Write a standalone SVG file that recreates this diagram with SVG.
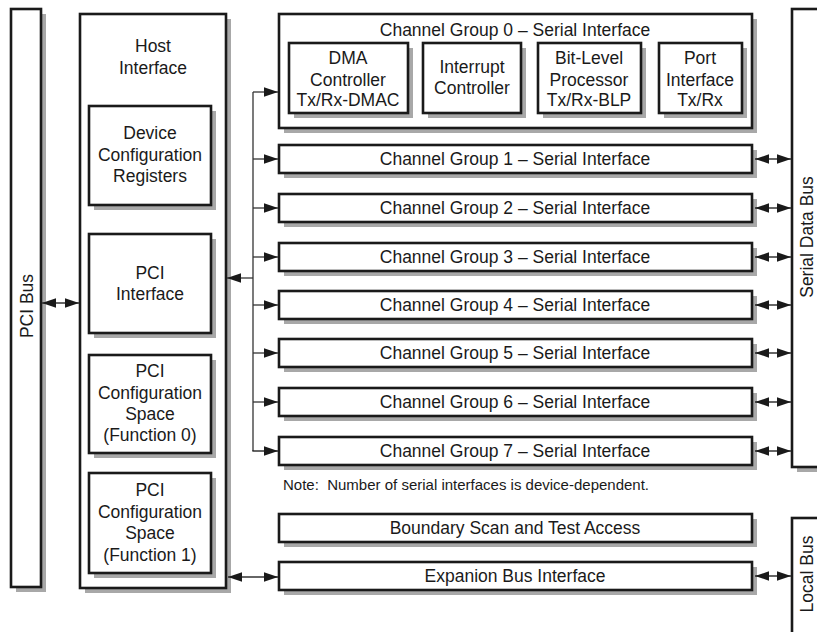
<svg xmlns="http://www.w3.org/2000/svg" width="817" height="632" viewBox="0 0 817 632">
<style>
.sh{fill:#a8a8a8}
.bx{fill:#fff;stroke:#1a1a1a;stroke-width:2.6}
text{font-family:"Liberation Sans",Arial,sans-serif;font-size:17.5px;fill:#1a1a1a;text-anchor:middle}
.note{font-size:15px;text-anchor:start}
.cn{fill:none;stroke:#333;stroke-width:1.3}
</style>
<defs>
<marker id="ah" markerUnits="userSpaceOnUse" markerWidth="14" markerHeight="10" refX="12" refY="4" orient="auto-start-reverse" viewBox="0 0 12 8">
<path d="M0,0 L12,4 L0,8 z" fill="#1a1a1a"/>
</marker>
</defs>
<rect width="817" height="632" fill="#fff"/>

<g id="pci-bus">
<rect class="sh" x="16" y="14" width="30" height="578"/>
<rect class="bx" x="11" y="9" width="30" height="578"/>
<text transform="translate(33,306) rotate(-90)">PCI Bus</text>
</g>

<g id="host-interface">
<rect class="sh" x="85" y="19" width="146" height="574"/>
<rect class="bx" x="80" y="14" width="146" height="574"/>
<text x="153" y="52">Host</text>
<text x="153" y="74">Interface</text>
</g>

<g id="device-config">
<rect class="sh" x="94" y="111" width="122" height="99"/>
<rect class="bx" x="89" y="106" width="122" height="99"/>
<text x="150" y="139">Device</text>
<text x="150" y="161">Configuration</text>
<text x="150" y="182">Registers</text>
</g>

<g id="pci-interface">
<rect class="sh" x="94" y="239" width="122" height="99"/>
<rect class="bx" x="89" y="234" width="122" height="99"/>
<text x="150" y="279">PCI</text>
<text x="150" y="300">Interface</text>
</g>

<g id="pci-config-0">
<rect class="sh" x="94" y="360" width="122" height="98"/>
<rect class="bx" x="89" y="355" width="122" height="98"/>
<text x="150" y="377">PCI</text>
<text x="150" y="399">Configuration</text>
<text x="150" y="420">Space</text>
<text x="150" y="441">(Function 0)</text>
</g>

<g id="pci-config-1">
<rect class="sh" x="94" y="478" width="122" height="100"/>
<rect class="bx" x="89" y="473" width="122" height="100"/>
<text x="150" y="496">PCI</text>
<text x="150" y="518">Configuration</text>
<text x="150" y="539">Space</text>
<text x="150" y="561">(Function 1)</text>
</g>

<g id="channel-group-0">
<rect class="sh" x="284" y="19" width="473" height="114"/>
<rect class="bx" x="279" y="14" width="473" height="114"/>
<text x="515" y="36">Channel Group 0 – Serial Interface</text>
</g>
<g id="dma">
<rect class="sh" x="294" y="48" width="119" height="70"/>
<rect class="bx" x="289" y="43" width="119" height="70"/>
<text x="348" y="64">DMA</text>
<text x="348" y="86">Controller</text>
<text x="348" y="106">Tx/Rx-DMAC</text>
</g>
<g id="interrupt">
<rect class="sh" x="428" y="48" width="98" height="70"/>
<rect class="bx" x="423" y="43" width="98" height="70"/>
<text x="472" y="73">Interrupt</text>
<text x="472" y="94">Controller</text>
</g>
<g id="blp">
<rect class="sh" x="543" y="48" width="103" height="70"/>
<rect class="bx" x="538" y="43" width="103" height="70"/>
<text x="589" y="64">Bit-Level</text>
<text x="589" y="86">Processor</text>
<text x="589" y="106">Tx/Rx-BLP</text>
</g>
<g id="port">
<rect class="sh" x="664" y="48" width="83" height="70"/>
<rect class="bx" x="659" y="43" width="83" height="70"/>
<text x="700" y="64">Port</text>
<text x="700" y="86">Interface</text>
<text x="700" y="106">Tx/Rx</text>
</g>

<g id="channel-group-1">
<rect class="sh" x="284" y="150" width="473" height="28"/>
<rect class="bx" x="279" y="145" width="473" height="28"/>
<text x="515" y="165">Channel Group 1 – Serial Interface</text>
</g>
<g id="channel-group-2">
<rect class="sh" x="284" y="199" width="473" height="28"/>
<rect class="bx" x="279" y="194" width="473" height="28"/>
<text x="515" y="214">Channel Group 2 – Serial Interface</text>
</g>
<g id="channel-group-3">
<rect class="sh" x="284" y="248" width="473" height="28"/>
<rect class="bx" x="279" y="243" width="473" height="28"/>
<text x="515" y="263">Channel Group 3 – Serial Interface</text>
</g>
<g id="channel-group-4">
<rect class="sh" x="284" y="296" width="473" height="28"/>
<rect class="bx" x="279" y="291" width="473" height="28"/>
<text x="515" y="311">Channel Group 4 – Serial Interface</text>
</g>
<g id="channel-group-5">
<rect class="sh" x="284" y="344" width="473" height="28"/>
<rect class="bx" x="279" y="339" width="473" height="28"/>
<text x="515" y="359">Channel Group 5 – Serial Interface</text>
</g>
<g id="channel-group-6">
<rect class="sh" x="284" y="393" width="473" height="28"/>
<rect class="bx" x="279" y="388" width="473" height="28"/>
<text x="515" y="408">Channel Group 6 – Serial Interface</text>
</g>
<g id="channel-group-7">
<rect class="sh" x="284" y="442" width="473" height="28"/>
<rect class="bx" x="279" y="437" width="473" height="28"/>
<text x="515" y="457">Channel Group 7 – Serial Interface</text>
</g>

<text class="note" x="283" y="490" xml:space="preserve">Note:  Number of serial interfaces is device-dependent.</text>

<g id="boundary-scan">
<rect class="sh" x="284" y="519" width="473" height="28"/>
<rect class="bx" x="279" y="514" width="473" height="28"/>
<text x="515" y="534">Boundary Scan and Test Access</text>
</g>
<g id="expansion-bus">
<rect class="sh" x="284" y="567" width="473" height="28"/>
<rect class="bx" x="279" y="562" width="473" height="28"/>
<text x="515" y="582">Expanion Bus Interface</text>
</g>

<g id="serial-data-bus">
<rect class="sh" x="797" y="14" width="40" height="458"/>
<rect class="bx" x="792" y="9" width="40" height="458"/>
<text transform="translate(813,237) rotate(-90)">Serial Data Bus</text>
</g>
<g id="local-bus">
<rect class="sh" x="797" y="523" width="40" height="130"/>
<rect class="bx" x="792" y="518" width="40" height="130"/>
<text transform="translate(813,574) rotate(-90)">Local Bus</text>
</g>

<g id="connectors">
<line class="cn" x1="42" y1="303" x2="79" y2="303" marker-start="url(#ah)" marker-end="url(#ah)"/>
<line class="cn" x1="253" y1="278" x2="227" y2="278" marker-end="url(#ah)"/>
<line class="cn" x1="253" y1="92" x2="253" y2="451"/>
<line class="cn" x1="253" y1="92" x2="278" y2="92" marker-end="url(#ah)"/>
<line class="cn" x1="253" y1="159" x2="278" y2="159" marker-end="url(#ah)"/>
<line class="cn" x1="253" y1="208" x2="278" y2="208" marker-end="url(#ah)"/>
<line class="cn" x1="253" y1="257" x2="278" y2="257" marker-end="url(#ah)"/>
<line class="cn" x1="253" y1="305" x2="278" y2="305" marker-end="url(#ah)"/>
<line class="cn" x1="253" y1="353" x2="278" y2="353" marker-end="url(#ah)"/>
<line class="cn" x1="253" y1="402" x2="278" y2="402" marker-end="url(#ah)"/>
<path class="cn" d="M253,450 V451 H278" marker-end="url(#ah)"/>
<line class="cn" x1="228" y1="577" x2="278" y2="577" marker-start="url(#ah)" marker-end="url(#ah)"/>
<line class="cn" x1="755" y1="159" x2="791" y2="159" marker-start="url(#ah)" marker-end="url(#ah)"/>
<line class="cn" x1="755" y1="208" x2="791" y2="208" marker-start="url(#ah)" marker-end="url(#ah)"/>
<line class="cn" x1="755" y1="257" x2="791" y2="257" marker-start="url(#ah)" marker-end="url(#ah)"/>
<line class="cn" x1="755" y1="305" x2="791" y2="305" marker-start="url(#ah)" marker-end="url(#ah)"/>
<line class="cn" x1="755" y1="353" x2="791" y2="353" marker-start="url(#ah)" marker-end="url(#ah)"/>
<line class="cn" x1="755" y1="402" x2="791" y2="402" marker-start="url(#ah)" marker-end="url(#ah)"/>
<line class="cn" x1="755" y1="451" x2="791" y2="451" marker-start="url(#ah)" marker-end="url(#ah)"/>
<line class="cn" x1="755" y1="576" x2="791" y2="576" marker-start="url(#ah)" marker-end="url(#ah)"/>
</g>
</svg>
